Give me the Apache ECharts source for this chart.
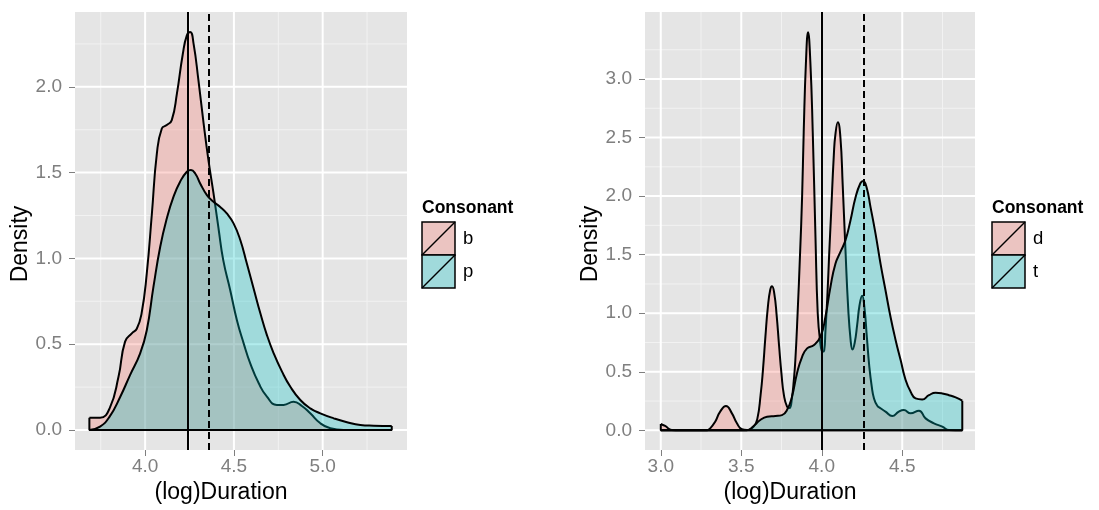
<!DOCTYPE html>
<html><head><meta charset="utf-8">
<script src="https://cdn.jsdelivr.net/npm/echarts@6/dist/echarts.min.js"></script>
<style>html,body{margin:0;padding:0;background:#fff}#c{width:1099px;height:510px}</style>
</head><body><div id="c"></div>
<script>
// ---------- data ----------
const legendTitle = 'Consonant';
const leftCats = ['b', 'p'];
const rightCats = ['d', 't'];

// left panel: b (pink) and p (teal)
const bX = [3.686, 3.746, 3.80, 3.85, 3.887, 3.925, 3.953, 3.98, 4.009, 4.038, 4.066, 4.094, 4.122, 4.15, 4.179, 4.212, 4.235, 4.254, 4.273, 4.30, 4.329, 4.357, 4.385, 4.414, 4.44, 4.479, 4.517, 4.555, 4.592, 4.64, 4.686, 4.742, 4.78, 4.836, 4.883, 4.93, 4.987, 5.043, 5.118, 5.25, 5.389];
const bY = [0.072, 0.072, 0.126, 0.31, 0.515, 0.563, 0.59, 0.68, 0.91, 1.26, 1.61, 1.757, 1.777, 1.806, 1.96, 2.19, 2.30, 2.32, 2.25, 2.04, 1.79, 1.57, 1.38, 1.17, 0.99, 0.816, 0.64, 0.505, 0.388, 0.272, 0.194, 0.146, 0.146, 0.165, 0.14, 0.097, 0.039, 0.01, 0.0, 0.0, 0.0];
const pX = [3.686, 3.746, 3.80, 3.86, 3.915, 3.972, 4.009, 4.047, 4.085, 4.122, 4.16, 4.197, 4.235, 4.258, 4.282, 4.31, 4.348, 4.385, 4.423, 4.46, 4.498, 4.536, 4.573, 4.611, 4.649, 4.686, 4.724, 4.771, 4.818, 4.874, 4.93, 4.987, 5.062, 5.137, 5.212, 5.287, 5.389];
const pY = [0.0, 0.02, 0.078, 0.194, 0.32, 0.447, 0.58, 0.835, 1.068, 1.233, 1.36, 1.447, 1.505, 1.515, 1.495, 1.437, 1.369, 1.33, 1.30, 1.262, 1.204, 1.107, 0.97, 0.825, 0.68, 0.553, 0.447, 0.34, 0.252, 0.175, 0.126, 0.097, 0.068, 0.045, 0.029, 0.025, 0.023];
const leftSolid = 4.244;
const leftDashed = 4.363;

// right panel: d (pink) and t (teal)
const dX = [3.0, 3.027, 3.068, 3.12, 3.2, 3.286, 3.307, 3.338, 3.369, 3.405, 3.442, 3.473, 3.504, 3.535, 3.577, 3.6, 3.62, 3.635, 3.65, 3.665, 3.68, 3.691, 3.705, 3.72, 3.735, 3.75, 3.765, 3.785, 3.8, 3.815, 3.826, 3.836, 3.85, 3.865, 3.878, 3.888, 3.902, 3.915, 3.929, 3.944, 3.961, 3.975, 3.99, 4.005, 4.015, 4.023, 4.035, 4.046, 4.058, 4.075, 4.085, 4.10, 4.116, 4.13, 4.147, 4.164, 4.18, 4.191, 4.205, 4.22, 4.235, 4.251, 4.265, 4.28, 4.295, 4.31, 4.325, 4.345, 4.365, 4.396, 4.438, 4.479, 4.51, 4.552, 4.604, 4.645, 4.697, 4.749, 4.79, 4.873];
const dY = [0.054, 0.037, 0.003, 0, 0, 0, 0.017, 0.074, 0.16, 0.207, 0.145, 0.06, 0.009, 0.003, 0.031, 0.1, 0.3, 0.52, 0.8, 1.05, 1.2, 1.23, 1.17, 0.98, 0.72, 0.48, 0.3, 0.2, 0.19, 0.28, 0.42, 0.6, 1.0, 1.5, 2.0, 2.55, 3.15, 3.40, 3.15, 2.55, 1.65, 1.0, 0.76, 0.67, 0.68, 0.85, 1.15, 1.5, 1.85, 2.35, 2.53, 2.63, 2.5, 2.1, 1.55, 1.05, 0.76, 0.69, 0.75, 0.9, 1.07, 1.15, 1.05, 0.8, 0.55, 0.38, 0.27, 0.21, 0.188, 0.16, 0.122, 0.16, 0.173, 0.145, 0.168, 0.102, 0.06, 0.031, 0.003, 0];
const tX = [3.0, 3.1, 3.2, 3.3, 3.4, 3.504, 3.535, 3.577, 3.618, 3.66, 3.712, 3.753, 3.784, 3.815, 3.846, 3.878, 3.909, 3.95, 3.992, 4.023, 4.054, 4.085, 4.116, 4.147, 4.178, 4.21, 4.24, 4.257, 4.278, 4.303, 4.334, 4.365, 4.396, 4.427, 4.459, 4.49, 4.521, 4.552, 4.583, 4.624, 4.666, 4.707, 4.749, 4.79, 4.832, 4.873];
const tY = [0, 0, 0, 0, 0, 0, 0.0, 0.037, 0.088, 0.116, 0.122, 0.13, 0.173, 0.287, 0.486, 0.628, 0.70, 0.727, 0.80, 0.97, 1.224, 1.423, 1.523, 1.622, 1.79, 1.99, 2.11, 2.13, 2.077, 1.906, 1.68, 1.423, 1.196, 0.97, 0.77, 0.60, 0.43, 0.33, 0.273, 0.264, 0.30, 0.321, 0.315, 0.30, 0.281, 0.253];
const rightSolid = 4.0;
const rightDashed = 4.259;

// tick labels / grid lines
const leftXTicks = [4.0, 4.5, 5.0];
const leftXMinor = [3.75, 4.25, 4.75, 5.25];
const leftYTicks = [0.0, 0.5, 1.0, 1.5, 2.0];
const leftYMinor = [0.25, 0.75, 1.25, 1.75, 2.25];
const rightXTicks = [3.0, 3.5, 4.0, 4.5];
const rightXMinor = [3.25, 3.75, 4.25, 4.75];
const rightYTicks = [0.0, 0.5, 1.0, 1.5, 2.0, 2.5, 3.0];
const rightYMinor = [0.25, 0.75, 1.25, 1.75, 2.25, 2.75, 3.25];

// ---------- styling ----------
const FONT = '"Liberation Sans", Arial, Helvetica, sans-serif';
const PINK = 'rgba(248,118,109,0.3)';
const TEAL = 'rgba(0,191,196,0.3)';
const PANEL_BG = '#E5E5E5';
const TICK_COL = '#7F7F7F';

const L = {xmin: 3.605, xmax: 5.475, ymin: -0.1166, ymax: 2.436};
const R = {xmin: 2.902, xmax: 4.952, ymin: -0.168, ymax: 3.572};

function zip(xs, ys) { return xs.map((x, i) => [x, ys[i]]); }

function gridItems(lim, xMaj, xMin, yMaj, yMin) {
  const out = [];
  xMin.forEach(v => out.push([v, lim.ymin, 1]));
  yMin.forEach(v => out.push([lim.xmin, v, 3]));
  xMaj.forEach(v => out.push([v, lim.ymin, 0]));
  yMaj.forEach(v => out.push([lim.xmin, v, 2]));
  return out;
}
function renderGrid(params, api) {
  const cs = params.coordSys;
  const kind = api.value(2);
  const p = api.coord([api.value(0), api.value(1)]);
  const major = kind === 0 || kind === 2;
  const style = {stroke: major ? '#FFFFFF' : '#F2F2F2', lineWidth: major ? 2 : 1};
  if (kind <= 1) {
    return {type: 'line', shape: {x1: p[0], y1: cs.y, x2: p[0], y2: cs.y + cs.height}, style};
  }
  return {type: 'line', shape: {x1: cs.x, y1: p[1], x2: cs.x + cs.width, y2: p[1]}, style};
}

function xAxisDef(gi, lim, ticks) {
  return {
    gridIndex: gi, type: 'value', min: lim.xmin, max: lim.xmax,
    axisLine: {show: false, onZero: false},
    axisTick: {show: true, customValues: ticks, length: 6, lineStyle: {color: TICK_COL, width: 1}},
    axisLabel: {customValues: ticks, formatter: v => (+v).toFixed(1), color: TICK_COL, fontSize: 19, margin: 7, fontFamily: FONT},
    splitLine: {show: false},
    name: '(log)Duration', nameLocation: 'middle', nameGap: 30,
    nameTextStyle: {fontSize: 23, color: '#000', fontFamily: FONT, padding: [0, 40, 0, 0]}
  };
}
function yAxisDef(gi, lim, ticks) {
  return {
    gridIndex: gi, type: 'value', min: lim.ymin, max: lim.ymax,
    axisLine: {show: false, onZero: false},
    axisTick: {show: true, customValues: ticks, length: 6, lineStyle: {color: TICK_COL, width: 1}},
    axisLabel: {customValues: ticks, formatter: v => (+v).toFixed(1), color: TICK_COL, fontSize: 19, margin: 13, fontFamily: FONT},
    splitLine: {show: false},
    name: 'Density', nameLocation: 'middle', nameGap: 41, nameRotate: 90,
    nameTextStyle: {fontSize: 23, color: '#000', fontFamily: FONT, padding: [0, 26, 0, 0]}
  };
}

function densitySeries(gi, xs, ys, fill, z) {
  return {
    type: 'line', xAxisIndex: gi, yAxisIndex: gi, data: zip(xs, ys),
    symbol: 'none', smooth: 0.5, z: z, silent: true,
    lineStyle: {color: '#000', width: 2},
    areaStyle: {color: fill, opacity: 1, origin: 'auto'}
  };
}
function edgeSeries(gi, xs, ys, z) {
  const n = xs.length - 1;
  return {
    type: 'line', xAxisIndex: gi, yAxisIndex: gi, z: z, silent: true,
    data: [[xs[0], ys[0]], [xs[0], 0], [xs[n], 0], [xs[n], ys[n]]],
    symbol: 'none', lineStyle: {color: '#000', width: 2}
  };
}
function vlineSeries(gi, solid, dashed) {
  return {
    type: 'line', xAxisIndex: gi, yAxisIndex: gi, data: [], z: 10, silent: true,
    markLine: {
      silent: true, symbol: 'none', label: {show: false}, animation: false,
      data: [
        {xAxis: solid, lineStyle: {color: '#000', width: 2, type: 'solid'}},
        {xAxis: dashed, lineStyle: {color: '#000', width: 2, type: [7, 4]}}
      ]
    }
  };
}

function legendGraphics(x0, cats) {
  const els = [{type: 'text', left: x0, top: 199, style: {text: legendTitle, font: 'bold 17.5px ' + FONT, fill: '#000'}}];
  const fills = [PINK, TEAL];
  cats.forEach((c, i) => {
    const y = 222 + i * 33;
    els.push({type: 'rect', shape: {x: x0, y: y, width: 33, height: 33}, style: {fill: PANEL_BG, stroke: null}});
    els.push({type: 'rect', shape: {x: x0, y: y, width: 33, height: 33}, style: {fill: fills[i], stroke: '#000', lineWidth: 1.5}});
    els.push({type: 'line', shape: {x1: x0, y1: y + 33, x2: x0 + 33, y2: y}, style: {stroke: '#000', lineWidth: 1.5}});
    els.push({type: 'text', x: x0 + 41, y: y + 16.5, style: {text: c, font: '18.5px ' + FONT, fill: '#000', verticalAlign: 'middle'}});
  });
  return els;
}

const chart = echarts.init(document.getElementById('c'), null, {renderer: 'canvas'});
chart.setOption({
  animation: false,
  backgroundColor: '#FFFFFF',
  textStyle: {fontFamily: FONT},
  grid: [
    {left: 75, top: 12, width: 332, height: 438, show: true, backgroundColor: PANEL_BG, borderWidth: 0},
    {left: 645, top: 12, width: 330, height: 438, show: true, backgroundColor: PANEL_BG, borderWidth: 0}
  ],
  xAxis: [xAxisDef(0, L, leftXTicks), xAxisDef(1, R, rightXTicks)],
  yAxis: [yAxisDef(0, L, leftYTicks), yAxisDef(1, R, rightYTicks)],
  series: [
    {type: 'custom', xAxisIndex: 0, yAxisIndex: 0, z: 1, silent: true, renderItem: renderGrid,
     data: gridItems(L, leftXTicks, leftXMinor, leftYTicks, leftYMinor)},
    {type: 'custom', xAxisIndex: 1, yAxisIndex: 1, z: 1, silent: true, renderItem: renderGrid,
     data: gridItems(R, rightXTicks, rightXMinor, rightYTicks, rightYMinor)},
    densitySeries(0, bX, bY, PINK, 2),
    edgeSeries(0, bX, bY, 3),
    densitySeries(0, pX, pY, TEAL, 4),
    edgeSeries(0, pX, pY, 5),
    vlineSeries(0, leftSolid, leftDashed),
    densitySeries(1, dX, dY, PINK, 2),
    edgeSeries(1, dX, dY, 3),
    densitySeries(1, tX, tY, TEAL, 4),
    edgeSeries(1, tX, tY, 5),
    vlineSeries(1, rightSolid, rightDashed)
  ],
  graphic: legendGraphics(422, leftCats).concat(legendGraphics(992, rightCats))
});
</script></body></html>
